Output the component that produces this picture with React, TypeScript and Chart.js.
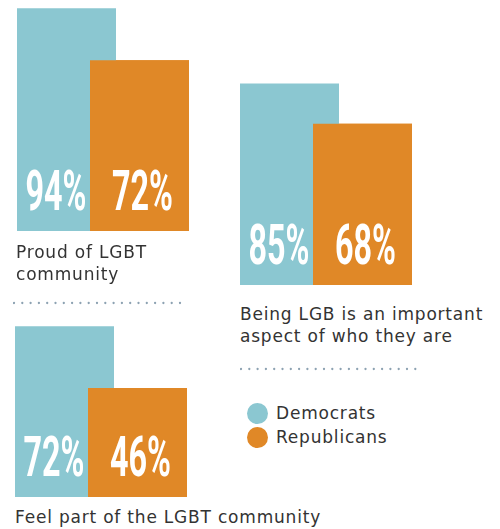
import React, { useEffect, useRef } from "react";
import { Chart, registerables } from "chart.js";

Chart.register(...registerables);

const SERIES = ["Democrats", "Republicans"];
const COLORS = ["#8BC7D1", "#E08827"];
const CATEGORY_LINES = [
  ["Proud of LGBT", "community"],
  ["Being LGB is an important", "aspect of who they are"],
  ["Feel part of the LGBT community"],
];
const DEMOCRATS = [94, 85, 72];
const REPUBLICANS = [72, 68, 46];

const TEXT_FONT = '"DejaVu Sans", sans-serif';
const TEXT_COLOR = "#333333";
const DOT_COLOR = "#8DA2B2";

const labelPlugin = {
  id: "pctLabels",
  afterDatasetsDraw(chart: any) {
    const ctx = chart.ctx as CanvasRenderingContext2D;
    const b0 = chart.getDatasetMeta(0).data[0] as any;
    const b1 = chart.getDatasetMeta(1).data[0] as any;
    // Republicans bar overlaps the Democrats bar: draw it again on top
    b1.draw(ctx);
    const v0 = chart.data.datasets[0].data[0];
    const v1 = chart.data.datasets[1].data[0];
    const demLeft = b0.x - b0.width / 2;
    const repLeft = b1.x - b1.width / 2;
    const x0 = (demLeft + repLeft) / 2 + 2.5;
    const x1 = b1.x + 3;
    const y = b0.base - 21;
    const draw = (txt: string, x: number) => {
      ctx.save();
      ctx.font = 'bold 55px Roboto, "DejaVu Sans", sans-serif';
      ctx.fillStyle = "#ffffff";
      ctx.textAlign = "center";
      ctx.textBaseline = "alphabetic";
      const w = ctx.measureText(txt).width;
      const sx = 61 / w;
      ctx.translate(x, y);
      ctx.scale(sx, 1);
      ctx.fillText(txt, 0, 0);
      ctx.restore();
    };
    draw(`${v0}%`, x0);
    draw(`${v1}%`, x1);
  },
};

function Panel({ index, left, top }: { index: number; left: number; top: number }) {
  const ref = useRef<HTMLCanvasElement | null>(null);
  useEffect(() => {
    if (!ref.current) return;
    const chart = new Chart(ref.current, {
      type: "bar",
      data: {
        labels: [CATEGORY_LINES[index].join(" ")],
        datasets: [
          {
            label: SERIES[0],
            data: [DEMOCRATS[index]],
            backgroundColor: COLORS[0],
            barPercentage: 99 / 73,
            categoryPercentage: 1,
            clip: false as any,
          },
          {
            label: SERIES[1],
            data: [REPUBLICANS[index]],
            backgroundColor: COLORS[1],
            barPercentage: 99 / 73,
            categoryPercentage: 1,
            clip: false as any,
          },
        ],
      },
      options: {
        responsive: false,
        animation: false,
        devicePixelRatio: 1,
        layout: { padding: { left: 15, right: 15, top: 0, bottom: 0 } },
        scales: {
          x: { display: false },
          y: { display: false, min: 0, max: 100 },
        },
        plugins: { legend: { display: false }, tooltip: { enabled: false } },
      },
      plugins: [labelPlugin],
    });
    return () => chart.destroy();
  }, [index]);
  return (
    <canvas
      ref={ref}
      width={176}
      height={237}
      style={{ position: "absolute", left, top, width: 176, height: 237 }}
    />
  );
}

function Caption({ index, left, top }: { index: number; left: number; top: number }) {
  return (
    <div
      style={{
        position: "absolute",
        left,
        top,
        font: `17px ${TEXT_FONT}`,
        lineHeight: "22px",
        letterSpacing: "0.8px",
        color: TEXT_COLOR,
        whiteSpace: "nowrap",
      }}
    >
      {CATEGORY_LINES[index].map((l, i) => (
        <div key={i}>{l}</div>
      ))}
    </div>
  );
}

function Dots({ left, top, width }: { left: number; top: number; width: number }) {
  return (
    <svg style={{ position: "absolute", left, top: top - 3 }} width={width} height={6}>
      <line
        x1={1}
        y1={3}
        x2={width - 1}
        y2={3}
        stroke={DOT_COLOR}
        strokeWidth={2.3}
        strokeLinecap="round"
        strokeDasharray="0 8.3"
      />
    </svg>
  );
}

export default function App() {
  return (
    <div
      style={{
        position: "absolute",
        left: 0,
        top: 0,
        width: 500,
        height: 529,
        overflow: "hidden",
        background: "#ffffff",
      }}
    >
      <Panel index={0} left={15} top={-6} />
      <Panel index={1} left={238} top={48} />
      <Panel index={2} left={13} top={260} />
      <Caption index={0} left={16} top={241} />
      <Caption index={1} left={240} top={303} />
      <Caption index={2} left={15} top={506} />
      <Dots left={13} top={303} width={176} />
      <Dots left={240} top={369} width={177} />
      {SERIES.map((s, i) => (
        <div
          key={s}
          style={{
            position: "absolute",
            left: 247,
            top: 401 + i * 24,
            height: 24,
            display: "flex",
            alignItems: "center",
            font: `17px ${TEXT_FONT}`,
            letterSpacing: "0.8px",
            color: TEXT_COLOR,
            whiteSpace: "nowrap",
          }}
        >
          <span
            style={{
              display: "inline-block",
              width: 21,
              height: 21,
              borderRadius: "50%",
              background: COLORS[i],
              marginRight: 8,
            }}
          />
          <span>{s}</span>
        </div>
      ))}
    </div>
  );
}
